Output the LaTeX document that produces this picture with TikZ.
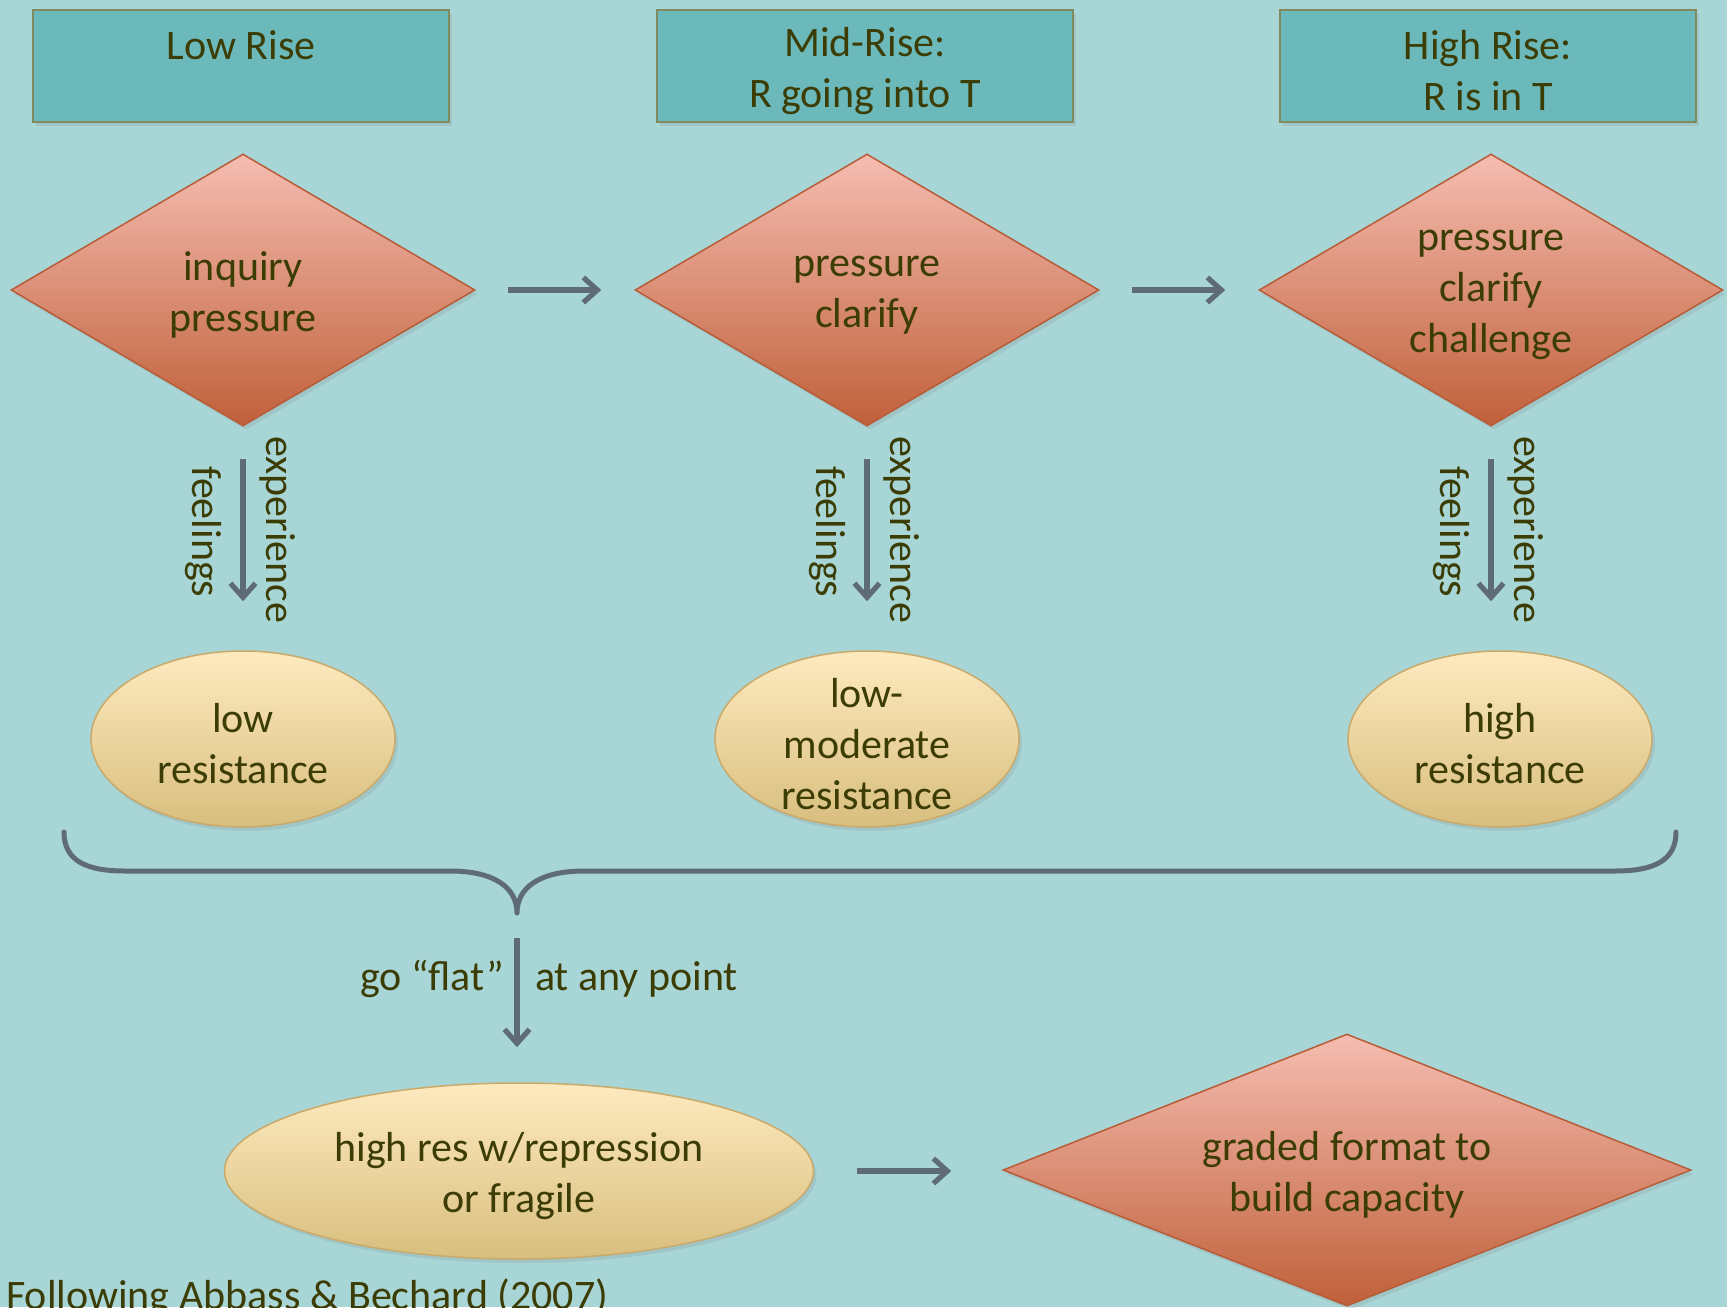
\documentclass[tikz,border=0pt]{standalone}
\usepackage{fontspec}
\setmainfont{Carlito}
\usetikzlibrary{shapes.geometric, arrows.meta, calc, shadows}
\definecolor{bgc}{HTML}{A8D5D6}
\definecolor{hdrfill}{HTML}{6BB9BB}
\definecolor{hdrline}{HTML}{7F8A5E}
\definecolor{diaTop}{HTML}{F5BDB1}
\definecolor{diaBot}{HTML}{C0603A}
\definecolor{diaLine}{HTML}{B85C38}
\definecolor{ellTop}{HTML}{FEEABF}
\definecolor{ellBot}{HTML}{D8BE7E}
\definecolor{ellLine}{HTML}{C9AA6B}
\definecolor{arrc}{HTML}{5F6C75}
\definecolor{txtc}{HTML}{3C3C05}
\begin{document}
\begin{tikzpicture}[x=1pt,y=-1pt,
  txt/.style={text=txtc, font=\fontsize{42}{51}\selectfont, align=center},
  ctxt/.style={txt, yshift=-5pt},
  shd/.style={drop shadow={opacity=0.18, shadow xshift=3pt, shadow yshift=-4pt}},
  hdr/.style={draw=hdrline, line width=2pt, fill=hdrfill, minimum width=416pt, minimum height=112pt, inner sep=0pt, shd},
  dia/.style={diamond, draw=diaLine, line width=1.5pt, top color=diaTop, bottom color=diaBot, minimum width=464pt, minimum height=272pt, inner sep=0pt, aspect=1.7, shd},
  ell/.style={ellipse, draw=ellLine, line width=1.5pt, top color=ellTop, bottom color=ellBot, minimum width=304pt, minimum height=176pt, inner sep=0pt, shd},
  arr/.style={draw=arrc, line width=5.2pt, -{Straight Barb[length=14pt,width=25pt]}},
  brace/.style={draw=arrc, line width=5pt, line join=round, line cap=round},
]
\useasboundingbox (0,0) rectangle (1727,1307);
\clip (0,0) rectangle (1727,1307);
\fill[bgc] (0,0) rectangle (1727,1307);

% headers
\node[hdr, label={[ctxt]center:{Low Rise\\\mbox{}}}] (h1) at (241,66) {};
\node[hdr, label={[ctxt]center:{Mid-Rise:\\R going into T}}] (h2) at (865,66) {};
\node[hdr, label={[ctxt]center:{High Rise:\\R is in T}}] (h3) at (1488,66) {};

% diamonds
\node[dia, label={[ctxt]center:{inquiry\\pressure}}] (d1) at (243,290) {};
\node[dia, label={[ctxt]center:{pressure\\clarify}}] (d2) at (867,290) {};
\node[dia, label={[ctxt]center:{pressure\\clarify\\challenge}}] (d3) at (1491,290) {};

% ellipses
\node[ell, label={[ctxt]center:{low\\resistance}}] (e1) at (243,739) {};
\node[ell, label={[ctxt]center:{low-\\moderate\\resistance}}] (e2) at (867,739) {};
\node[ell, label={[ctxt]center:{high\\resistance}}] (e3) at (1500,739) {};

% bottom row
\node[ell, minimum width=589pt, label={[ctxt]center:{high res w/repression\\or fragile}}] (eb) at (519,1171) {};
\node[dia, minimum width=688pt, label={[ctxt]center:{graded format to\\build capacity}}] (db) at (1347,1170) {};

% horizontal arrows
\draw[arr, shorten <=32pt, shorten >=33pt] (d1.east) -- (d2.west);
\draw[arr, shorten <=32pt, shorten >=33pt] (d2.east) -- (d3.west);
\draw[arr, shorten <=43pt, shorten >=51pt] (eb.east) -- (eb.east -| db.west);

% vertical arrows with labels
\foreach \d/\e in {d1/e1, d2/e2, d3/e3}{
  \draw[arr, shorten <=32pt, shorten >=49pt] (\d.south) -- (\d.south |- \e.north);
  \node[txt, rotate=-90] at ($(\d.south)+(-40,105)$) {feelings};
  \node[txt, rotate=-90] at ($(\d.south)+(35,103)$) {experience};
}

% brace
\draw[brace] (64,832) .. controls (64,860) and (85,871) .. (125,871) -- (450,871)
  .. controls (495,871) and (517,888) .. (517,913) coordinate (tip)
  .. controls (517,888) and (539,871) .. (584,871) -- (1615,871)
  .. controls (1655,871) and (1676,860) .. (1676,832);

\draw[arr, shorten <=25pt, shorten >=35pt] (tip) -- (tip |- eb.north);
\node[txt, anchor=base east, inner sep=0pt] (gf) at (504,990) {go ``flat''};
\node[txt, anchor=base west, inner sep=0pt] (ap) at (535,990) {at any point};

% footer (cut at the bottom edge, as in the reference)
\node[txt, anchor=base west, inner sep=0pt] (foot) at (6,1309) {Following Abbass \& Bechard (2007)};
\end{tikzpicture}
\end{document}
